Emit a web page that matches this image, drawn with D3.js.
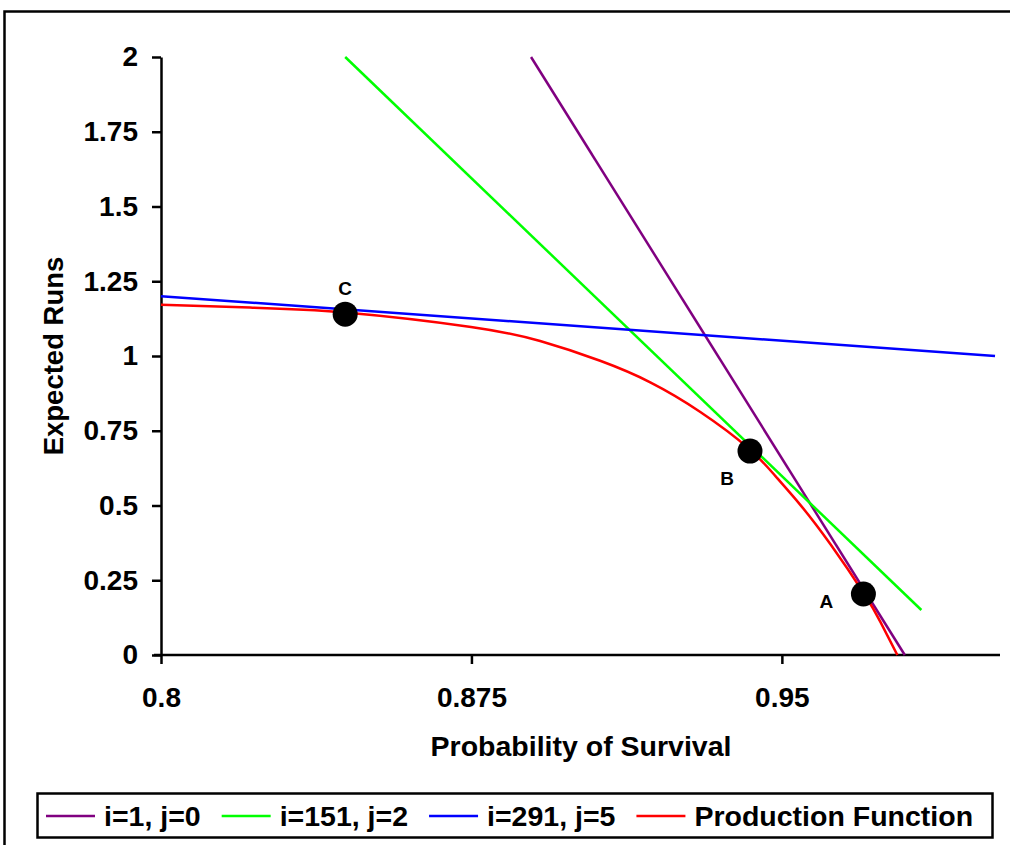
<!DOCTYPE html>
<html lang="en">
  <head>
    <meta charset="utf-8">
    <title>Expected Runs vs Probability of Survival</title>
    <script src="https://d3js.org/d3.v7.min.js"></script>
    <style>
      body { margin: 0; background: #fff; }
      svg { display: block; font-family: Arial, "Liberation Sans", sans-serif; font-weight: bold; }
    </style>
  </head>
  <body>
    <div id="main"></div>
    <script>
      // production function
      var prodX = [0.8, 0.8215, 0.8445, 0.8749, 0.8916, 0.9061, 0.9182, 0.9303, 0.9419, 0.9484, 0.9544, 0.9617, 0.9699, 0.9738, 0.9779];
      var prodY = [1.171, 1.162, 1.1455, 1.097, 1.05, 0.984, 0.912, 0.813, 0.692, 0.599, 0.503, 0.371, 0.204, 0.111, 0.0];
      // tangent lines (start / end points)
      var purpleX = [0.8894, 0.9797], purpleY = [2.0, 0.0];
      var greenX = [0.8445, 0.9837], greenY = [2.0, 0.1505];
      var blueX = [0.8, 1.0015], blueY = [1.2, 1.0];
      // marked points
      var pointNames = ["A", "B", "C"];
      var pointX = [0.9697, 0.9423, 0.8445];
      var pointY = [0.204, 0.682, 1.14];
      var seriesNames = ["i=1, j=0", "i=151, j=2", "i=291, j=5", "Production Function"];
      var seriesColors = ["#800080", "#00ff00", "#0000ff", "#ff0000"];
      var xTicks = [0.8, 0.875, 0.95];
      var yTicks = [0, 0.25, 0.5, 0.75, 1, 1.25, 1.5, 1.75, 2];

      var width = 1010, height = 845;
      var svg = d3.select("#main").append("svg")
        .attr("width", width)
        .attr("height", height);

      // outer frame
      svg.append("rect")
        .attr("x", 4.5).attr("y", 11.5)
        .attr("width", 1020).attr("height", 850)
        .attr("fill", "none").attr("stroke", "#000").attr("stroke-width", 2.5);

      var x = d3.scaleLinear().domain([0.8, 1.0027]).range([161, 1000]);
      var y = d3.scaleLinear().domain([0, 2]).range([655, 57]);

      var xAxis = svg.append("g")
        .attr("transform", "translate(0,655)")
        .call(d3.axisBottom(x).tickValues(xTicks).tickSize(9).tickSizeOuter(0).tickPadding(23)
          .tickFormat(function(d) { return d3.format("")(+d.toFixed(3)); }));
      var yAxis = svg.append("g")
        .attr("transform", "translate(161,0)")
        .call(d3.axisLeft(y).tickValues(yTicks).tickSize(9).tickSizeOuter(0).tickPadding(14)
          .tickFormat(function(d) { return d3.format("")(d); }));
      [xAxis, yAxis].forEach(function(ax) {
        ax.select(".domain").attr("stroke", "#000").attr("stroke-width", 2.5);
        ax.selectAll(".tick line").attr("stroke", "#000").attr("stroke-width", 2.5);
        ax.selectAll(".tick text").attr("fill", "#000")
          .style("font-size", "28px").style("font-weight", "bold")
          .style("font-family", "Arial, 'Liberation Sans', sans-serif");
      });
      xAxis.selectAll(".tick text").attr("dy", "0.71em");
      // extend x axis to the left so it meets the y axis cleanly
      xAxis.select(".domain").attr("d", "M" + (x(0.8) - 7) + ",0H" + x.range()[1]);

      // axis titles
      svg.append("text")
        .attr("x", 581).attr("y", 756)
        .attr("text-anchor", "middle")
        .style("font-size", "28.5px")
        .text("Probability of Survival");
      svg.append("text")
        .attr("transform", "translate(63,356) rotate(-90)")
        .attr("text-anchor", "middle")
        .style("font-size", "27.5px")
        .text("Expected Runs");

      var line = d3.line()
        .x(function(d) { return x(d[0]); })
        .y(function(d) { return y(d[1]); });

      var tangents = [
        d3.zip(purpleX, purpleY),
        d3.zip(greenX, greenY),
        d3.zip(blueX, blueY)
      ];
      tangents.forEach(function(pts, i) {
        svg.append("path")
          .attr("d", line(pts))
          .attr("fill", "none")
          .attr("stroke", seriesColors[i])
          .attr("stroke-width", 2.5);
      });

      svg.append("path")
        .attr("d", line.curve(d3.curveNatural)(d3.zip(prodX, prodY)))
        .attr("fill", "none")
        .attr("stroke", seriesColors[3])
        .attr("stroke-width", 2.5);

      // points A, B, C
      svg.selectAll(".pt").data(pointNames).enter().append("circle")
        .attr("class", "pt")
        .attr("cx", function(d, i) { return x(pointX[i]); })
        .attr("cy", function(d, i) { return y(pointY[i]); })
        .attr("r", 12.5)
        .attr("fill", "#000");
      var labelOffsets = { A: [-37, 7], B: [-23, 27], C: [0, -26] };
      svg.selectAll(".pl").data(pointNames).enter().append("text")
        .attr("class", "pl")
        .attr("x", function(d, i) { return x(pointX[i]) + labelOffsets[d][0]; })
        .attr("y", function(d, i) { return y(pointY[i]) + labelOffsets[d][1]; })
        .attr("text-anchor", "middle")
        .attr("dy", "0.35em")
        .style("font-size", "19px")
        .text(function(d) { return d; });

      // legend
      var legend = svg.append("g");
      legend.append("rect")
        .attr("x", 37.5).attr("y", 793.5)
        .attr("width", 955).attr("height", 44)
        .attr("fill", "#fff").attr("stroke", "#000").attr("stroke-width", 2.5);
      var lx = 46;
      seriesNames.forEach(function(name, i) {
        legend.append("line")
          .attr("x1", lx).attr("x2", lx + 49)
          .attr("y1", 816).attr("y2", 816)
          .attr("stroke", seriesColors[i]).attr("stroke-width", 2.5);
        var t = legend.append("text")
          .attr("x", lx + 58).attr("y", 816)
          .attr("dy", "0.35em")
          .style("font-size", "28.5px")
          .text(name);
        lx += 58 + t.node().getComputedTextLength() + 21;
      });
    </script>
  </body>
</html>
